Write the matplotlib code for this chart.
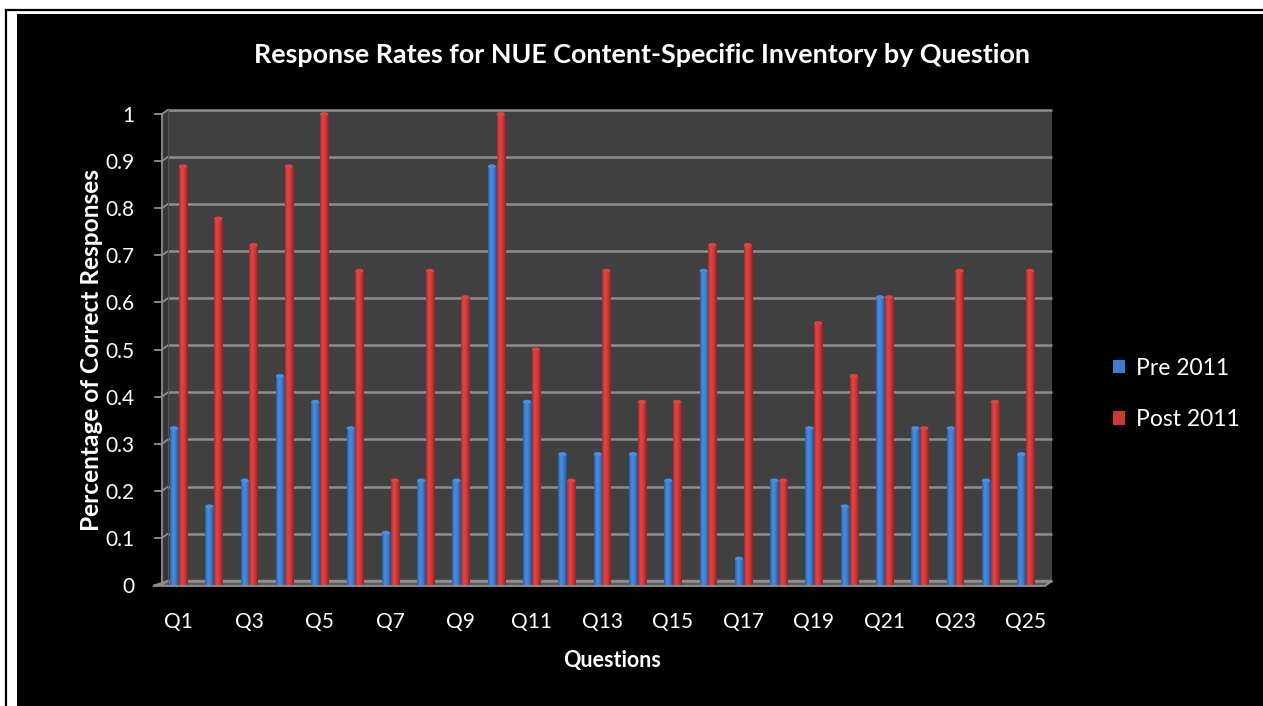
import numpy as np
import matplotlib.pyplot as plt
from matplotlib.patches import Rectangle, Polygon, Ellipse
from matplotlib.colors import LinearSegmentedColormap

questions = ['Q%d' % (i + 1) for i in range(25)]
pre_2011 = [0.333, 0.167, 0.222, 0.444, 0.389, 0.333, 0.111, 0.222, 0.222, 0.889,
            0.389, 0.278, 0.278, 0.278, 0.222, 0.667, 0.056, 0.222, 0.333, 0.167,
            0.611, 0.333, 0.333, 0.222, 0.278]
post_2011 = [0.889, 0.778, 0.722, 0.889, 1.0, 0.667, 0.222, 0.667, 0.611, 1.0,
             0.5, 0.222, 0.667, 0.389, 0.389, 0.722, 0.722, 0.222, 0.556, 0.444,
             0.611, 0.333, 0.667, 0.389, 0.667]
y_ticks = [0, 0.1, 0.2, 0.3, 0.4, 0.5, 0.6, 0.7, 0.8, 0.9, 1]
y_tick_labels = ['0', '0.1', '0.2', '0.3', '0.4', '0.5', '0.6', '0.7', '0.8', '0.9', '1']

plt.rcParams['font.family'] = ['Lato', 'DejaVu Sans']

W, H = 1263, 706
fig = plt.figure(figsize=(W / 100, H / 100), dpi=100, facecolor='white')

# black chart area with the thin frame line around it
fig.patches.append(Rectangle((17 / W, 0), 1, 1 - 14 / H, transform=fig.transFigure,
                             facecolor='black', edgecolor='none', zorder=-5))
fig.lines.append(plt.Line2D([6 / W, 6 / W], [0, 1 - 10 / H], transform=fig.transFigure,
                            color='black', lw=1.6, zorder=-5))
fig.lines.append(plt.Line2D([6 / W, 1], [1 - 10 / H, 1 - 10 / H], transform=fig.transFigure,
                            color='black', lw=1.6, zorder=-5))

# axes in pixel terms: x from 150 to 1060, y from 100 to 600 (top down)
ax = fig.add_axes([150 / W, 1 - 600 / H, 910 / W, 500 / H])
ax.set_facecolor('none')
for s in ax.spines.values():
    s.set_visible(False)

px_x0, px_dx = 178.5, 35.3
py0, py_unit = 585.0, 471.0

def dx(p):
    return (p - px_x0) / px_dx

def dy(p):
    return (py0 - p) / py_unit

# 3D-looking walls
back = 0.009
side_l, side_r = dx(162), dx(168)
wall_r = dx(1052)
ax.add_patch(Rectangle((side_r, back), wall_r - side_r, 1.0, facecolor='#404040',
                       edgecolor='none', zorder=1))
ax.add_patch(Polygon([(side_l, 0), (side_r, back), (side_r, 1 + back), (side_l, 1)],
                     closed=True, facecolor='#363636', edgecolor='none', zorder=1))
# floor
ax.add_patch(Polygon([(dx(153), -0.002), (dx(1045), -0.002), (wall_r, back), (side_r, back)],
                     closed=True, facecolor='#5a5a5a', edgecolor='#8c8c8c', lw=1.4, zorder=2))

grid_c = '#8e8e8e'
for t in y_ticks:
    ax.plot([side_r, wall_r], [t + back, t + back], color=grid_c, lw=1.8, zorder=2,
            solid_capstyle='butt')
    ax.plot([side_l, side_r], [t, t + back], color=grid_c, lw=1.3, zorder=2)
    ax.plot([dx(155), side_l], [t, t], color=grid_c, lw=1.3, zorder=2)
ax.plot([side_l, side_l], [0, 1], color=grid_c, lw=1.3, zorder=2)
ax.plot([side_r, side_r], [back, 1 + back], color='#555555', lw=0.8, zorder=2)

# cylinder-style bars
x = np.arange(len(questions))
bw = 0.23
off = 0.125
blue_cm = LinearSegmentedColormap.from_list('b', ['#2a5fa8', '#4a8ee0', '#3b7ccc', '#25508f'])
red_cm = LinearSegmentedColormap.from_list('r', ['#b02a2a', '#e04848', '#cc3636', '#8f2323'])
grad = np.linspace(0, 1, 64).reshape(1, -1)
cap_h = 4.0 / py_unit

pre_bars = ax.bar(x - off, pre_2011, bw, color='#3b7ccc', zorder=3, label='Pre 2011')
post_bars = ax.bar(x + off, post_2011, bw, color='#cc3636', zorder=3, label='Post 2011')
for bars, cm, top_c in ((pre_bars, blue_cm, '#4a8ee0'), (post_bars, red_cm, '#dc4444')):
    for b in bars:
        x0, w, h = b.get_x(), b.get_width(), b.get_height()
        im = ax.imshow(grad, cmap=cm, extent=[x0, x0 + w, 0, h], aspect='auto',
                       zorder=4, interpolation='bilinear')
        im.set_clip_path(b)
        # rounded top of the cylinder
        ax.add_patch(Ellipse((x0 + w / 2, h), w, cap_h, facecolor=top_c,
                             edgecolor='none', zorder=5))

ax.set_xlim(dx(150), dx(1060))
ax.set_ylim(dy(600), dy(100))

ax.set_xticks(x[::2])
ax.set_xticklabels(questions[::2], color='white', fontsize=15)
ax.set_yticks(y_ticks)
ax.set_yticklabels(y_tick_labels, color='white', fontsize=15)
ax.tick_params(length=0, pad=0)
ax.tick_params(axis='x', pad=8.5)
ax.tick_params(axis='y', pad=11)

fig.text(642 / W, 1 - 55 / H, 'Response Rates for NUE Content-Specific Inventory by Question',
         ha='center', va='center', color='white', fontsize=19.4, fontweight='bold')
fig.text(92 / W, 1 - 350 / H, 'Percentage of Correct Responses', rotation=90,
         ha='center', va='center', color='white', fontsize=17.6, fontweight='bold')
fig.text(612 / W, 1 - 661 / H, 'Questions', ha='center', va='center',
         color='white', fontsize=15.5, fontweight='bold')

leg = fig.legend(handles=[pre_bars, post_bars], loc='center left',
                 bbox_to_anchor=(1092 / W, 1 - 394 / H), frameon=False,
                 fontsize=16.5, labelcolor='white', handlelength=0.55, handleheight=0.55,
                 handletextpad=0.45, labelspacing=1.35)

fig.savefig('out.png', dpi=100, facecolor='white')
